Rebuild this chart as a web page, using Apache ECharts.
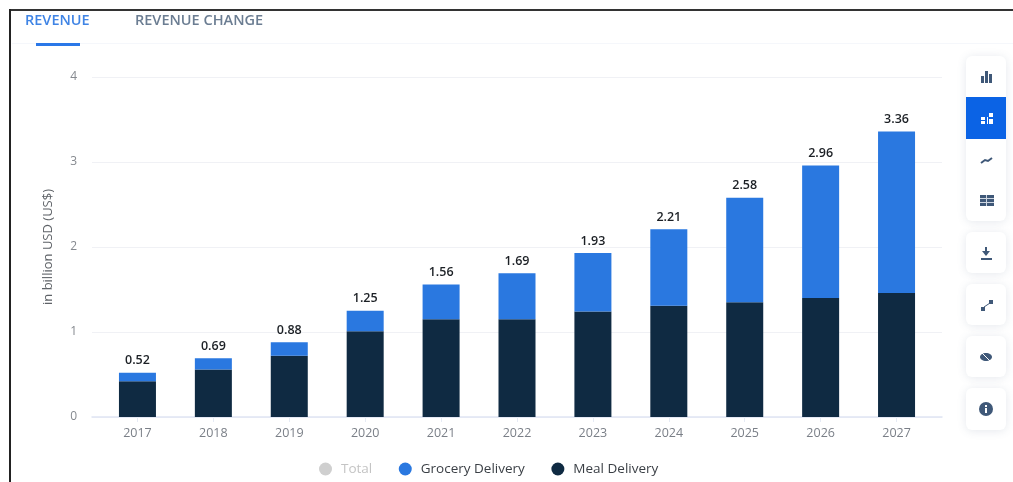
<!DOCTYPE html>
<html><head><meta charset="utf-8">
<style>html,body{margin:0;padding:0;background:#fff}#c{width:1013px;height:482px;filter:blur(0.7px)}</style>
<script src="https://cdn.jsdelivr.net/npm/echarts@6/dist/echarts.min.js"></script>
</head><body><div id="c"></div>
<script>
const years=['2017','2018','2019','2020','2021','2022','2023','2024','2025','2026','2027'];
const totals=[0.52,0.69,0.88,1.25,1.56,1.69,1.93,2.21,2.58,2.96,3.36];
const meal=[0.42,0.56,0.72,1.01,1.15,1.15,1.24,1.31,1.35,1.40,1.46];
const grocery=[0.10,0.13,0.16,0.24,0.41,0.54,0.69,0.90,1.23,1.56,1.90];
const yTicks=[0,1,2,3,4];
const font='"Open Sans","Noto Sans",sans-serif';
const chart=echarts.init(document.getElementById('c'));

const card=(x,y,w,h)=>({type:'rect',shape:{x,y,width:w,height:h,r:6},style:{fill:'#fff',shadowBlur:10,shadowColor:'rgba(70,90,130,0.14)',shadowOffsetY:1}});
const box=(x,y,w,h,fill)=>({type:'rect',shape:{x,y,width:w,height:h},style:{fill}});
const ink='#3f5878';
const graphics=[
  box(9,9,1004,2,'#333'),box(9,9,2,473,'#222'),
  box(12,43,1001,1,'#f5f7fb'),
  box(36,43,44,3,'#2a78e8'),
  {type:'text',style:{x:25,y:13,text:'REVENUE',fill:'#3f84e5',font:'600 14.5px '+font}},
  {type:'text',style:{x:135,y:13,text:'REVENUE CHANGE',fill:'#6b7d92',font:'600 14.5px '+font}},
  card(966,56,40,165),card(966,232,40,41),card(966,284,40,41),card(966,336,40,41),card(966,388,40,42),
  box(966,97,40,42,'#0b63e5'),
  // chart-type icons
  box(981,76,3,7,ink),box(985,71,3,12,ink),box(989,74,3,9,ink),
  box(981,117,4,3,'#fff'),box(981,121,4,3,'#fff'),box(987,117,1,7,'#fff'),box(989,113,4,4,'#fff'),box(989,119,4,5,'#fff'),
  {type:'polyline',shape:{points:[[981,163],[985,160],[988,161],[992,158]]},style:{stroke:ink,fill:'none',lineWidth:2}},
  box(980,195,14,11,ink),box(980,198,14,1,'#cfd7e2'),box(980,202,14,1,'#cfd7e2'),box(986,195,1,11,'#cfd7e2'),
  // download
  box(985,247,2,8,ink),{type:'polygon',shape:{points:[[982,251],[990,251],[986,256]]},style:{fill:ink}},box(981,258,11,2,ink),
  // expand
  box(989,300,4,4,ink),box(981,307,4,4,ink),
  {type:'line',shape:{x1:984,y1:307,x2:990,y2:303},style:{stroke:ink,lineWidth:1}},
  // eye
  {type:'ellipse',shape:{cx:986,cy:357,rx:6,ry:4},style:{fill:ink}},
  {type:'line',shape:{x1:981,y1:352,x2:991,y2:362},style:{stroke:'#fff',lineWidth:1}},
  // info
  {type:'circle',shape:{cx:986,cy:409,r:7},style:{fill:ink}},box(985,408,2,5,'#fff'),box(985,405,2,2,'#fff')
];

chart.setOption({
  animation:false,
  textStyle:{fontFamily:font},
  graphic:{elements:graphics},
  grid:[
    {left:99.5,right:78.5,top:77,bottom:65},
    {left:92,right:71,top:77,bottom:65}
  ],
  xAxis:[
    {type:'category',gridIndex:0,data:years,
      axisLine:{show:false},
      axisTick:{show:true,alignWithLabel:true,length:5,lineStyle:{color:'#e6ebf5'}},
      axisLabel:{color:'#7a7f87',fontSize:12.5,margin:10}},
    {type:'category',gridIndex:1,data:years,
      axisLine:{show:true,lineStyle:{color:'#dfe5f3',width:1.5}},
      axisTick:{show:false},axisLabel:{show:false}}
  ],
  yAxis:[
    {type:'value',gridIndex:0,min:0,max:4,interval:1,splitLine:{show:false},axisLine:{show:false},axisTick:{show:false},axisLabel:{show:false}},
    {type:'value',gridIndex:1,min:yTicks[0],max:yTicks[4],interval:1,
      name:'in billion USD (US$)',nameLocation:'middle',nameGap:37,
      nameTextStyle:{color:'#5f6368',fontSize:13},
      splitLine:{lineStyle:{color:'#f0f1f5',width:1}},
      axisLine:{show:false},axisTick:{show:false},
      axisLabel:{color:'#85898f',fontSize:12,margin:15}}
  ],
  legend:{left:314,top:457,itemWidth:21,itemHeight:13,itemGap:26.5,icon:'circle',selectedMode:false,
    textStyle:{color:'#3a3f45',fontSize:13.5,fontFamily:font},
    data:[
      {name:'Total',itemStyle:{color:'#cfcfcf'},textStyle:{color:'#c4c4c4'}},
      {name:'Grocery Delivery'},
      {name:'Meal Delivery'}
    ]},
  series:[
    {name:'Meal Delivery',type:'bar',stack:'rev',xAxisIndex:0,yAxisIndex:0,barWidth:37,data:meal,
      itemStyle:{color:'#0f2a42'}},
    {name:'Grocery Delivery',type:'bar',stack:'rev',xAxisIndex:0,yAxisIndex:0,barWidth:37,data:grocery,
      itemStyle:{color:'#2a78e0'}},
    {name:'Total',type:'line',xAxisIndex:0,yAxisIndex:0,data:totals,z:5,showSymbol:true,showAllSymbol:true,symbol:'circle',symbolSize:1,
      lineStyle:{width:0,opacity:0},itemStyle:{color:'rgba(0,0,0,0)'},
      label:{show:true,position:'top',distance:5,color:'#1c2025',fontSize:12.5,fontWeight:600,formatter:p=>p.value.toFixed(2)}}
  ]
});
</script></body></html>
